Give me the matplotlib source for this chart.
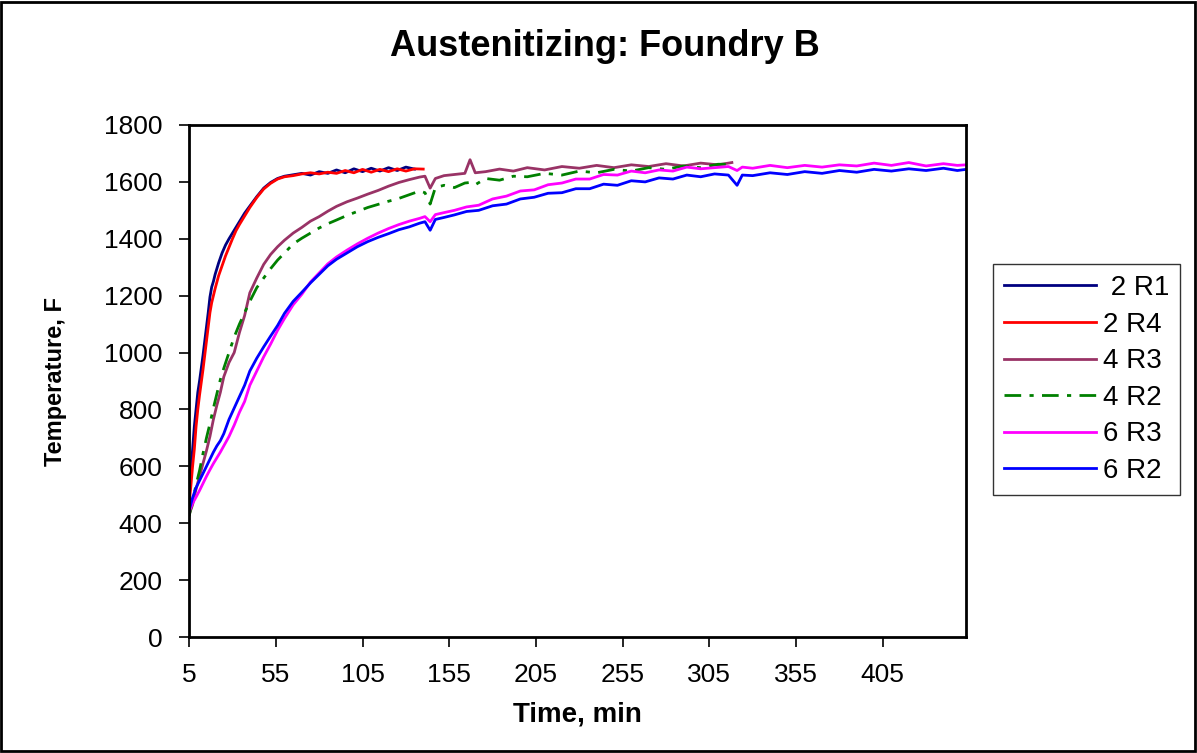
import matplotlib
matplotlib.use('Agg')
import matplotlib.pyplot as plt
from matplotlib.patches import Rectangle

plt.rcParams['font.family'] = ['Liberation Sans', 'DejaVu Sans']

# ============================================================================
# DATOS
# ============================================================================
# tiempos de las series de 2 (R1 / R4)
t_2 = [5, 6, 7, 8, 9, 10, 11, 12, 13, 14, 15, 16, 17, 18, 19, 20, 22, 24, 26, 28,
       30, 32, 34, 37, 40, 44, 48, 52, 56, 60, 65, 70, 75, 80, 85, 90, 95, 100,
       105, 110, 115, 120, 125, 130, 135, 140]
temp_2r1 = [490, 580, 660, 740, 800, 860, 900, 945, 990, 1040, 1090, 1140, 1195,
            1230, 1250, 1275, 1315, 1350, 1378, 1400, 1420, 1440, 1460, 1490, 1515,
            1548, 1578, 1598, 1612, 1620, 1625, 1630, 1624, 1636, 1630, 1642, 1632,
            1646, 1636, 1648, 1638, 1650, 1640, 1652, 1645]
temp_2r4 = [470, 530, 600, 660, 740, 800, 850, 895, 940, 990, 1040, 1090, 1140,
            1175, 1200, 1225, 1270, 1305, 1340, 1370, 1400, 1428, 1450, 1480, 1510,
            1545, 1575, 1595, 1610, 1618, 1622, 1628, 1632, 1628, 1634, 1630, 1640,
            1632, 1644, 1634, 1644, 1636, 1646, 1638, 1646, 1645]

# tiempos de las series de 4 (R3 / R2)
t_4 = [5, 7, 9, 11, 13, 15, 17, 19, 21, 23, 25, 28, 31, 34, 37, 40, 44, 48, 52, 56,
       60, 65, 70, 75, 80, 85, 90, 96, 102, 108, 114, 120, 126, 132, 138, 141, 144,
       147, 152, 158, 164, 167, 170, 176, 184, 192, 200, 210, 220, 230, 240, 250,
       260, 270, 280, 290, 300, 310, 318]
temp_4r3 = [430, 465, 520, 565, 610, 655, 705, 765, 815, 860, 915, 965, 1000, 1070,
            1130, 1210, 1262, 1310, 1345, 1372, 1395, 1420, 1440, 1462, 1478, 1497,
            1514, 1530, 1543, 1557, 1570, 1585, 1598, 1608, 1617, 1620, 1578, 1612,
            1622, 1626, 1630, 1678, 1632, 1636, 1645, 1638, 1650, 1642, 1654, 1648,
            1658, 1650, 1660, 1654, 1664, 1656, 1666, 1660, 1668]
temp_4r2 = [425, 480, 535, 585, 645, 700, 750, 805, 855, 905, 945, 1000, 1055, 1100,
            1140, 1180, 1228, 1262, 1295, 1325, 1350, 1382, 1402, 1420, 1438, 1453,
            1466, 1482, 1496, 1510, 1521, 1532, 1542, 1555, 1568, 1562, 1522, 1580,
            1588, 1580, 1596, 1598, 1590, 1612, 1606, 1620, 1618, 1630, 1624, 1638,
            1632, 1644, 1638, 1650, 1644, 1656, 1650, 1662, 1662]

# tiempos de las series de 6 (R3 / R2)
t_6 = [5, 7, 9, 11, 13, 15, 17, 19, 21, 23, 25, 28, 31, 34, 37, 40, 44, 48, 52, 56,
       60, 65, 70, 75, 80, 85, 90, 96, 102, 108, 114, 120, 126, 132, 138, 141, 144,
       147, 152, 158, 165, 172, 180, 188, 196, 204, 212, 220, 228, 236, 244, 252,
       260, 268, 276, 284, 292, 300, 308, 316, 321, 324, 330, 340, 350, 360, 370,
       380, 390, 400, 410, 420, 430, 440, 448, 453]
temp_6r3 = [440, 470, 492, 515, 540, 565, 588, 610, 630, 650, 672, 705, 745, 790,
            828, 885, 935, 985, 1030, 1078, 1120, 1168, 1205, 1248, 1280, 1312, 1336,
            1360, 1382, 1402, 1420, 1436, 1450, 1462, 1472, 1478, 1460, 1485, 1492,
            1500, 1512, 1518, 1540, 1550, 1568, 1572, 1590, 1596, 1610, 1610, 1626,
            1624, 1638, 1632, 1642, 1638, 1652, 1646, 1650, 1654, 1640, 1652, 1648,
            1658, 1650, 1658, 1652, 1660, 1656, 1666, 1658, 1668, 1656, 1664, 1658,
            1660]
temp_6r2 = [445, 490, 525, 550, 575, 600, 625, 650, 672, 690, 715, 765, 805, 845,
            885, 935, 980, 1020, 1058, 1095, 1138, 1180, 1212, 1245, 1275, 1305, 1328,
            1350, 1372, 1390, 1405, 1418, 1432, 1442, 1455, 1460, 1430, 1468, 1475,
            1484, 1496, 1500, 1516, 1522, 1540, 1546, 1560, 1562, 1576, 1576, 1592,
            1588, 1604, 1600, 1614, 1610, 1624, 1618, 1628, 1624, 1588, 1624, 1622,
            1632, 1626, 1636, 1630, 1640, 1634, 1644, 1638, 1646, 1640, 1648, 1640,
            1644]

labels = [' 2 R1', '2 R4', '4 R3', '4 R2', '6 R3', '6 R2']
colors = ['#000080', '#FF0000', '#993366', '#008000', '#FF00FF', '#0000FF']

x_ticks = [5, 55, 105, 155, 205, 255, 305, 355, 405]
y_ticks = [0, 200, 400, 600, 800, 1000, 1200, 1400, 1600, 1800]

# ============================================================================
# GRAFICO
# ============================================================================
fig = plt.figure(figsize=(11.97, 7.53), dpi=100, facecolor='white')
ax = fig.add_axes([0.158, 0.154, 0.649, 0.680])

series = [(t_2, temp_2r1), (t_2, temp_2r4), (t_4, temp_4r3),
          (t_4, temp_4r2), (t_6, temp_6r3), (t_6, temp_6r2)]
for (t, v), lab, col in zip(series, labels, colors):
    ls = (0, (6, 3, 1.5, 3)) if lab == '4 R2' else '-'
    ax.plot(t[:len(v)], v, color=col, lw=2.0, ls=ls, label=lab)

ax.set_xlim(5, 453)
ax.set_ylim(0, 1800)
ax.set_xticks(x_ticks)
ax.set_yticks(y_ticks)
ax.tick_params(direction='out', length=7, width=1.2, labelsize=19)
ax.tick_params(axis='y', pad=12)
ax.tick_params(axis='x', pad=12)
for s in ax.spines.values():
    s.set_linewidth(2)

ax.set_xlabel('Time, min', fontsize=20, fontweight='bold')
ax.xaxis.set_label_coords(0.5, -0.125)
ax.set_ylabel('Temperature, F', fontsize=17, fontweight='bold')
ax.yaxis.set_label_coords(-0.157, 0.5)
fig.text(0.505, 0.938, 'Austenitizing: Foundry B', ha='center', va='center',
         fontsize=26, fontweight='bold')

leg = fig.legend(loc='upper left', bbox_to_anchor=(0.8296, 0.6494),
                 fontsize=20, frameon=True, fancybox=False, edgecolor='black',
                 handlelength=3.3, handletextpad=0.25, labelspacing=0.38,
                 borderpad=0.4, borderaxespad=0)
leg.get_frame().set_linewidth(1.0)

# borde de la figura
fig.patches.append(Rectangle((0.001, 0.002), 0.997, 0.996, transform=fig.transFigure,
                             fill=False, edgecolor='black', lw=2))

fig.savefig('out.png', dpi=100, facecolor='white')
